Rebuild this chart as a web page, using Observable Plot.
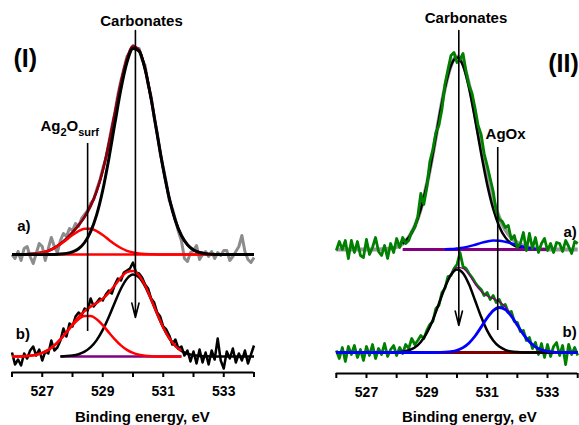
<!DOCTYPE html>
<html><head><meta charset="utf-8">
<script src="https://cdn.jsdelivr.net/npm/d3@7"></script>
<script src="https://cdn.jsdelivr.net/npm/@observablehq/plot@0.6"></script>
<style>
body{margin:0;background:#fff}
#chart{position:relative;width:579px;height:425px;overflow:hidden;background:#fff}
#chart svg{position:absolute;top:0}
</style></head><body><div id="chart"></div>
<script>
// ---------- data ----------
const energyData = [526.0,526.1,526.2,526.3,526.4,526.5,526.6,526.7,526.8,526.9,
 527.0,527.1,527.2,527.3,527.4,527.5,527.6,527.7,527.8,527.9,
 528.0,528.1,528.2,528.3,528.4,528.5,528.6,528.7,528.8,528.9,
 529.0,529.1,529.2,529.3,529.4,529.5,529.6,529.7,529.8,529.9,
 530.0,530.1,530.2,530.3,530.4,530.5,530.6,530.7,530.8,530.9,
 531.0,531.1,531.2,531.3,531.4,531.5,531.6,531.7,531.8,531.9,
 532.0,532.1,532.2,532.3,532.4,532.5,532.6,532.7,532.8,532.9,
 533.0,533.1,533.2,533.3,533.4,533.5,533.6,533.7,533.8,533.9,534.0];
const energyFit = [526.0,526.2,526.4,526.6,526.8,527.0,527.2,527.4,527.6,527.8,
 528.0,528.2,528.4,528.6,528.8,529.0,529.2,529.4,529.6,529.8,
 530.0,530.2,530.4,530.6,530.8,531.0,531.2,531.4,531.6,531.8,
 532.0,532.2,532.4,532.6,532.8,533.0,533.2,533.4,533.6,533.8,534.0];
const tickValues = [526,527,528,529,530,531,532,533,534];
const tickLabels = ["","527","","529","","531","","533",""];

// Panel (I) spectrum a) measured (grey) and fit
const leftA_data = [0,-4,3,-6,6,8,-2,-9,1,11, 8,-6,6,17,8,2,14,21,18,26,
 24,31,28,36,40,44,51,55,65,74, 86,96,112,128,142,160,174,186,198,202,
 209,205,206,195,189,170,158,137,122,101, 87,72,54,46,35,23,14,-4,-7,2,
 4,9,-5,0,3,-2,3,-4,2,-1, 4,4,-6,-2,3,8,19,3,-5,-8, -3];
const leftA_carb = [0,0,0,0,0,0,0,0.1,0.4,1.1, 2.6,5.8,12.0,22.9,39.9,64.3,95.6,130.9,165.2,192.1,
 206.0,203.5,185.2,155.4,120.1,85.6,56.2,34.0,19.0,9.8, 4.6,2.0,0.8,0.3,0,0,0,0,0,0, 0];
const leftA_ag2o = [0,0.1,0.2,0.4,0.9,2.0,3.7,6.5,10.3,14.8, 19.5,23.4,25.7,25.7,23.4,19.5,14.8,10.3,6.5,3.7,
 2.0,0.9,0.4,0.2,0.1,0,0,0,0,0, 0,0,0,0,0,0,0,0,0,0, 0];
const leftA_env = [0,0.1,0.2,0.4,0.9,2.0,3.7,6.6,10.7,15.9, 22.1,29.2,37.7,48.6,63.3,83.8,110.4,141.2,171.7,195.8,
 208.0,204.4,185.6,155.6,120.2,85.6,56.2,34.0,19.0,9.8, 4.6,2.0,0.8,0.3,0,0,0,0,0,0, 0];

// Panel (I) spectrum b)
const leftB_data = [4,-8,-3,-9,3,-2,6,10,1,7, -4,5,3,16,6,9,16,28,20,33,
 30,40,44,41,48,46,58,50,54,58, 56,62,66,63,72,78,76,84,86,88,
 94,84,83,79,72,68,58,54,44,40, 30,27,21,12,17,8,10,1,6,-5,
 5,-7,7,-6,4,-8,6,-3,18,-4, -12,5,-2,8,-6,3,-4,6,-7,2, 11];
const leftB_carb = [0,0,0,0,0,0,0,0,0.1,0.4, 1.0,2.3,4.8,9.3,16.4,26.6,39.6,54.1,67.8,77.8,
 82.0,79.2,70.2,57.0,42.5,29.0,18.2,10.5,5.5,2.7, 1.2,0.5,0.2,0,0,0,0,0,0,0, 0];
const leftB_ag2o = [0,0.1,0.3,0.8,1.8,3.6,6.6,11.1,17.1,24.1, 31.3,37.2,40.6,40.6,37.2,31.3,24.1,17.1,11.1,6.6,
 3.6,1.8,0.8,0.3,0.1,0,0,0,0,0, 0,0,0,0,0,0,0,0,0,0, 0];
const leftB_env = [0,0.1,0.3,0.8,1.8,3.6,6.6,11.1,17.2,24.5, 32.3,39.5,45.4,49.9,53.6,57.9,63.7,71.2,78.9,84.4,
 85.6,81.0,71.0,57.3,42.6,29.0,18.2,10.5,5.5,2.7, 1.2,0.5,0.2,0,0,0,0,0,0,0, 0];

// Panel (II) spectrum a)
const rightA_data = [-1,8,0,9,-9,9,-3,8,-6,-8, 10,-5,2,12,-2,-6,4,-9,6,-3,
 11,2,12,6,9,18,22,33,56,45, 62,88,100,117,124,140,165,180,194,197,
 187,190,196,178,164,156,141,124,115,96, 84,71,58,38,30,28,22,24,10,14,
 2,6,17,-1,16,1,12,-3,6,11, -1,6,-3,7,6,-2,9,3,-4,8, 6];
const rightA_carb = [0,0,0,0,0,0,0,0.1,0.4,1.0, 2.5,5.8,12.1,23.1,40.5,65.1,96.1,130.1,161.5,183.9,
 192.0,183.9,161.5,130.1,96.1,65.1,40.5,23.1,12.1,5.8, 2.5,1.0,0.4,0.1,0,0,0,0,0,0, 0];
const rightA_agox = [0,0,0,0,0,0,0,0,0,0, 0,0,0,0,0,0,0,0,0.2,0.4,
 1.0,1.8,3.1,4.8,6.6,8.1,9.0,8.8,7.7,6.1, 4.3,2.7,1.5,0.8,0.3,0.1,0,0,0,0, 0];
const rightA_env = [0,0,0,0,0,0,0,0.1,0.4,1.0, 2.5,5.8,12.1,23.1,40.5,65.1,96.1,130.1,161.7,184.3,
 193.0,185.7,164.6,134.9,102.7,73.2,49.5,31.9,19.8,11.9, 6.8,3.7,1.9,0.9,0.3,0.1,0,0,0,0, 0];

// Panel (II) spectrum b)
const rightB_data = [2,-6,5,-9,6,-2,7,-5,3,-8, 6,-3,8,-6,4,-2,9,-4,3,7,
 -3,5,-1,8,4,14,8,12,17,14, 22,28,31,44,47,60,64,76,77,84,
 88,100,86,84,79,75,70,66,63,57, 60,53,57,50,53,46,48,40,41,31,
 30,21,22,12,15,4,10,-2,9,-5, 8,-4,6,10,-3,7,-12,8,-2,5, -3];
const rightB_carb = [0,0,0,0,0,0,0,0,0,0.1, 0.3,0.8,2.2,5.0,10.5,19.6,32.6,48.7,65.0,77.6,
 83.0,79.3,68.0,52.0,35.7,21.9,12.0,5.9,2.6,1.0, 0.4,0.1,0,0,0,0,0,0,0,0, 0];
const rightB_agox = [0,0,0,0,0,0,0,0,0,0, 0,0,0,0,0,0,0,0.1,0.3,0.9,
 2.2,4.9,9.6,16.5,25.4,34.6,41.9,45.0,42.9,36.3, 27.3,18.2,10.8,5.7,2.7,1.1,0.4,0.1,0,0, 0];
const rightB_env = [0,0,0,0,0,0,0,0,0,0.1, 0.3,0.8,2.2,5.0,10.5,19.6,32.6,48.8,65.3,78.5,
 85.2,84.2,77.6,68.5,61.1,56.5,53.9,50.9,45.5,37.3, 27.7,18.3,10.8,5.7,2.7,1.1,0.4,0.1,0,0, 0];

// vertical stacking offsets of spectrum a) above spectrum b) (a.u.)
const leftOffsetA = 102;
const rightOffsetA = 103;

// ---------- helpers ----------
const FONT = "'Liberation Sans', Arial, Helvetica, sans-serif";
function rows(xs, ys, off, range) {
  return xs.map((x, i) => ({x, y: ys[i] + off}))
    .filter(d => !range || (d.x >= range[0] - 1e-6 && d.x <= range[1] + 1e-6));
}
function L(data, color, width, curve) {
  return Plot.line(data, {x: "x", y: "y", stroke: color, strokeWidth: width,
    curve: curve || "linear", strokeLinejoin: "round", strokeLinecap: "butt"});
}

function panel(cfg) {
  const base = cfg.yDomain[0];
  const marks = [
    Plot.ruleY([base], {stroke: "black", strokeWidth: 2}),
    Plot.ruleX(tickValues, {x: d => d, y1: base, y2: base - 5, stroke: "black", strokeWidth: 2}),
    Plot.text(tickValues, {x: d => d, y: base, text: (d, i) => tickLabels[i], dy: 19,
      fontSize: 14, fontWeight: "bold", fontFamily: FONT, fill: "black"}),
    ...cfg.layers,
    ...cfg.rules.map(r => Plot.ruleX([r], {x: "x", y1: "y1", y2: "y2", stroke: "black", strokeWidth: 1.6})),
    ...cfg.arrows.map(a => Plot.arrow([a], {x1: "x", y1: "y1", x2: "x", y2: "y2", stroke: "black",
      strokeWidth: 1.6, headLength: 14, headAngle: 28})),
    ...cfg.texts.map(t => Plot.text([t], {x: "x", y: "y", text: "text", fontSize: t.size,
      fontWeight: "bold", fontFamily: FONT, fill: "black", textAnchor: t.anchor || "middle"}))
  ];
  const svg = Plot.plot({
    width: cfg.width, height: 425,
    marginLeft: cfg.marginLeft, marginRight: cfg.marginRight, marginTop: 0, marginBottom: cfg.marginBottom,
    x: {domain: [526, 534], axis: null},
    y: {domain: cfg.yDomain, axis: null},
    style: {background: "transparent", fontFamily: FONT, overflow: "visible"},
    marks
  });
  svg.style.left = cfg.left + "px";
  // subscripts
  svg.querySelectorAll("text").forEach(t => {
    if (t.textContent === "Ag2Osurf") {
      const target = t.querySelector("tspan") || t;
      target.textContent = "";
      const parts = [["Ag", 0, null], ["2", 5, 11], ["O", -5, null], ["surf", 5, 11]];
      for (const [s, dy, fs] of parts) {
        const ts = document.createElementNS("http://www.w3.org/2000/svg", "tspan");
        ts.textContent = s;
        if (dy) ts.setAttribute("dy", dy);
        if (fs) ts.setAttribute("font-size", fs);
        target.appendChild(ts);
      }
    }
  });
  return svg;
}

const chart = document.getElementById("chart");

// ---------- panel (I) ----------
chart.appendChild(panel({
  left: 0, width: 290, marginLeft: 11.5, marginRight: 36.5, marginBottom: 53,
  yDomain: [-16, 356],
  layers: [
    // a)
    L(rows(energyData, leftA_data, leftOffsetA), "#8c8c8c", 3),
    L(rows(energyFit, leftA_env, leftOffsetA), "#800080", 2.5, "monotone-x"),
    L(rows(energyFit, leftA_env, leftOffsetA, [526, 530.6]), "#8b0000", 2.5, "monotone-x"),
    L(rows(energyFit, energyFit.map(() => 0), leftOffsetA), "#ff0000", 2.5),
    L(rows(energyFit, leftA_ag2o, leftOffsetA), "#ff0000", 2.5, "monotone-x"),
    L(rows(energyFit, leftA_carb, leftOffsetA), "#000000", 3, "monotone-x"),
    // b)
    L(rows(energyData, leftB_data, 0), "#000000", 2.5),
    L(rows(energyFit, energyFit.map(() => 0), 0, [527.6, 531.6]), "#800080", 2.5),
    L(rows(energyFit, leftB_carb, 0, [527.6, 534]), "#000000", 2.5, "monotone-x"),
    L(rows(energyFit, leftB_ag2o, 0, [526, 531.6]), "#ff0000", 2.5, "monotone-x"),
    L(rows(energyFit, leftB_env, 0, [526, 531.6]), "#ff0000", 2.5, "monotone-x")
  ],
  rules: [{x: 528.5, y1: 213, y2: 25}],
  arrows: [{x: 530.08, y1: 326, y2: 39}],
  texts: [
    {x: 530.28, y: 335, text: "Carbonates", size: 15},
    {x: 526.94, y: 230, text: "Ag2Osurf", size: 15, anchor: "start"},
    {x: 526.44, y: 298, text: "(I)", size: 25},
    {x: 526.39, y: 130, text: "a)", size: 15},
    {x: 526.36, y: 22, text: "b)", size: 15},
    {x: 530.31, y: -61, text: "Binding energy, eV", size: 15}
  ]
}));

// ---------- panel (II) ----------
chart.appendChild(panel({
  left: 290, width: 289, marginLeft: 45.8, marginRight: 1.8, marginBottom: 52,
  yDomain: [-21, 352],
  layers: [
    // a)
    L(rows(energyFit, rightA_env, rightOffsetA), "#999999", 4, "monotone-x"),
    L(rows(energyFit, rightA_carb, rightOffsetA, [528.2, 533.0]), "#000000", 2.5, "monotone-x"),
    L(rows(energyFit, energyFit.map(() => 0), rightOffsetA, [528.2, 533.0]), "#800080", 3),
    L(rows(energyFit, rightA_agox, rightOffsetA, [529.6, 532.6]), "#0000ff", 2.5, "monotone-x"),
    L(rows(energyData, rightA_data, rightOffsetA), "#008000", 2.8),
    // b)
    L(rows(energyData, rightB_data, 0), "#008000", 2.8),
    L(rows(energyFit, energyFit.map(() => 0), 0, [528.0, 533.2]), "#800000", 3),
    L(rows(energyFit, rightB_env, 0, [528.0, 533.2]), "#800080", 1.3, "monotone-x"),
    L(rows(energyFit, rightB_carb, 0), "#000000", 2.5, "monotone-x"),
    L(rows(energyFit, rightB_agox, 0), "#0000ff", 2.8, "monotone-x")
  ],
  rules: [{x: 531.35, y1: 205, y2: 22}],
  arrows: [{x: 530.06, y1: 322, y2: 27}],
  texts: [
    {x: 530.30, y: 334, text: "Carbonates", size: 15},
    {x: 531.61, y: 218, text: "AgOx", size: 15},
    {x: 533.53, y: 288.5, text: "(II)", size: 25},
    {x: 533.75, y: 120, text: "a)", size: 15},
    {x: 533.73, y: 20, text: "b)", size: 15},
    {x: 530.41, y: -65, text: "Binding energy, eV", size: 15}
  ]
}));
</script></body></html>
